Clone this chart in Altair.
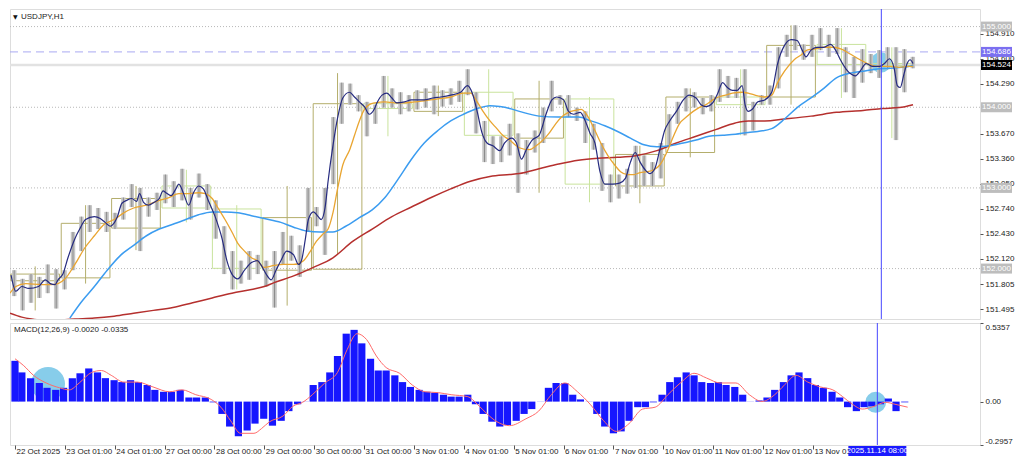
import altair as alt
import pandas as pd

# ---------------- layout ----------------
W = 970
H1 = 310
H2 = 122
FONT = "Liberation Sans"

# ---------------- data ----------------
symbol_title = "USDJPY,H1"
macd_title = "MACD(12,26,9) -0.0020 -0.0335"

day_bar = [0, 24, 48, 72, 96, 120, 144, 168, 192, 216, 240, 264, 288, 312, 336, 360, 384]
day_labels = ["22 Oct 2025", "23 Oct 01:00", "24 Oct 01:00", "27 Oct 00:00", "28 Oct 00:00",
              "29 Oct 00:00", "30 Oct 00:00", "31 Oct 00:00", "3 Nov 01:00", "4 Nov 01:00",
              "5 Nov 01:00", "6 Nov 01:00", "7 Nov 01:00", "10 Nov 01:00", "11 Nov 01:00",
              "12 Nov 01:00", "13 Nov 01:00"]
cursor_bar = 415
cursor_label = "2025.11.14 08:00"

price_ticks = [154.910, 154.600, 154.290, 153.670, 153.360, 153.050, 152.740, 152.430,
               152.120, 151.805, 151.495]
round_levels = [155.0, 154.0, 153.0, 152.0]
ask_price = 154.686
bid_price = 154.524
macd_ticks = [0.5357, 0.0, -0.2957]

# daily candles (H1 chart overlay)
d_open = [151.849, 151.885, 152.502, 153.024, 152.739, 151.980, 151.992, 154.044, 153.949,
          154.186, 153.617, 154.103, 153.024, 153.439, 154.127, 154.127, 154.779, 154.542]
d_close = [151.932, 152.561, 152.869, 152.751, 152.003, 152.632, 154.044, 153.984, 154.186,
           153.652, 154.103, 153.047, 153.415, 154.127, 154.032, 154.767, 154.530, 154.518]
d_high = [152.027, 152.786, 153.024, 153.225, 152.786, 153.024, 154.423, 154.388, 154.269,
          154.471, 154.328, 154.127, 153.522, 154.234, 154.471, 155.016, 154.981, 154.743]
d_low = [151.481, 151.814, 152.229, 152.573, 151.742, 151.541, 152.170, 153.640, 153.890,
         153.557, 152.940, 152.822, 152.810, 153.379, 153.652, 154.032, 154.115, 153.617]

# 4-hour grouped H1 ranges
cand_hi = [151.980, 151.873, 151.932, 151.897, 152.051, 151.992, 151.980, 152.454, 152.644, 152.786,
           152.751, 152.703, 152.691, 152.881, 153.047, 153.000, 152.881, 152.940, 153.166, 153.083,
           153.237, 153.000, 153.178, 153.047, 152.846, 152.525, 152.217, 152.098, 152.217, 152.170,
           152.098, 152.217, 152.454, 152.407, 152.288, 153.000, 152.763, 153.000, 153.878, 154.305,
           154.293, 154.150, 154.067, 154.032, 154.388, 154.234, 154.186, 154.150, 154.210, 154.234,
           154.269, 154.210, 154.234, 154.328, 154.471, 154.186, 153.830, 153.640, 153.640, 153.795,
           153.676, 153.593, 153.712, 153.996, 154.328, 154.150, 154.150, 153.996, 153.949, 153.795,
           153.557, 153.166, 153.166, 153.237, 153.522, 153.403, 153.320, 153.557, 153.913, 154.067,
           154.234, 154.186, 154.115, 154.150, 154.471, 154.388, 154.364, 154.471, 154.067, 154.150,
           154.269, 154.744, 154.898, 155.016, 154.779, 154.898, 154.981, 154.898, 154.981, 154.744,
           154.625, 154.720, 154.660, 154.708, 154.744, 154.744, 154.720, 154.625]
cand_lo = [151.659, 151.482, 151.576, 151.636, 151.695, 151.505, 151.742, 151.980, 152.217, 152.454,
           152.490, 152.454, 152.490, 152.608, 152.763, 152.217, 152.644, 152.727, 152.810, 152.763,
           152.846, 152.608, 152.881, 152.727, 152.371, 151.932, 151.742, 151.814, 151.861, 151.932,
           151.778, 151.517, 152.051, 152.098, 151.897, 152.454, 152.525, 152.170, 153.047, 153.795,
           154.032, 153.949, 153.640, 153.795, 153.996, 153.996, 153.913, 153.949, 153.973, 153.996,
           153.913, 154.008, 154.032, 154.067, 154.150, 153.676, 153.320, 153.296, 153.320, 153.403,
           152.940, 153.166, 153.439, 153.557, 153.949, 154.032, 153.878, 153.830, 153.557, 153.474,
           152.964, 152.822, 152.869, 152.929, 153.000, 153.024, 153.024, 153.118, 153.522, 153.795,
           153.949, 153.996, 153.913, 153.949, 154.067, 154.115, 154.115, 153.652, 153.712, 154.032,
           154.032, 154.234, 154.625, 154.708, 154.589, 154.625, 154.708, 154.625, 154.660, 154.186,
           154.115, 154.305, 154.423, 154.364, 154.471, 153.593, 154.186, 154.483]

# fast MA (navy): (bar, price)
navy_pts = [(0.5, 151.920), (2.8, 151.719), (5.6, 151.778), (8.9, 151.754), (13.6, 151.778),
            (16.8, 151.861), (19.2, 151.814), (21.5, 151.802), (22.9, 151.861), (25.2, 151.932),
            (27.6, 152.134), (30.9, 152.371), (33.2, 152.490), (36.0, 152.608), (40.2, 152.644),
            (43.0, 152.620), (45.3, 152.573), (47.7, 152.525), (51.0, 152.632), (53.3, 152.810),
            (55.6, 152.846), (58.0, 152.869), (60.3, 152.834), (61.7, 152.929), (63.6, 152.822),
            (65.9, 152.786), (68.7, 152.822), (71.1, 152.869), (72.9, 152.964), (74.3, 152.940),
            (76.7, 152.905), (79.0, 152.988), (80.4, 153.047), (82.7, 152.929), (85.1, 152.786),
            (87.4, 152.940), (89.8, 153.024), (92.1, 152.988), (94.4, 152.846), (97.7, 152.644),
            (101.0, 152.371), (103.3, 152.098), (105.7, 151.932), (108.5, 151.873), (111.7, 151.980),
            (115.0, 152.075), (117.8, 152.098), (119.7, 152.039), (122.0, 151.932), (124.4, 151.861),
            (126.7, 151.980), (129.0, 152.098), (131.8, 152.217), (135.1, 152.170), (137.4, 152.051),
            (138.8, 152.098), (140.7, 152.371), (142.1, 152.608), (144.5, 152.703), (146.8, 152.644),
            (148.2, 152.608), (150.1, 152.762), (151.5, 153.083), (153.8, 153.522), (156.1, 153.878),
            (158.5, 154.115), (161.7, 154.186), (164.1, 154.127), (166.4, 154.067), (168.8, 154.008),
            (171.1, 153.913), (173.4, 153.972), (174.8, 154.055), (177.2, 154.150), (179.5, 154.174),
            (181.9, 154.115), (184.2, 154.055), (187.9, 154.067), (191.2, 154.091), (194.5, 154.091),
            (197.3, 154.091), (201.5, 154.115), (205.2, 154.127), (209.9, 154.150), (214.6, 154.186),
            (217.9, 154.269), (220.2, 154.174), (222.5, 153.949), (224.9, 153.676), (227.2, 153.557),
            (230.0, 153.522), (233.3, 153.462), (235.6, 153.557), (238.9, 153.617), (241.2, 153.557),
            (243.6, 153.356), (245.9, 153.474), (248.7, 153.593), (252.0, 153.652), (255.3, 153.913),
            (258.1, 154.091), (260.4, 154.127), (263.7, 154.091), (266.0, 153.949), (268.4, 153.913),
            (271.6, 153.937), (274.0, 153.830), (276.3, 153.676), (278.6, 153.557), (281.0, 153.201),
            (283.3, 153.047), (287.1, 153.047), (290.3, 153.059), (293.1, 153.118), (295.5, 153.320),
            (297.8, 153.439), (300.1, 153.320), (302.5, 153.225), (304.8, 153.178), (307.1, 153.237),
            (309.5, 153.474), (311.8, 153.712), (314.2, 153.830), (317.4, 153.949), (320.7, 154.091),
            (323.5, 154.150), (326.8, 154.115), (329.1, 154.032), (331.5, 154.008), (334.7, 154.055),
            (337.1, 154.174), (339.4, 154.305), (341.7, 154.245), (344.1, 154.210), (346.4, 154.210),
            (348.7, 154.269), (350.1, 154.032), (351.6, 153.949), (353.4, 153.972), (356.2, 154.067),
            (359.5, 154.091), (362.8, 154.186), (365.6, 154.542), (368.9, 154.767), (372.1, 154.838),
            (374.9, 154.827), (377.3, 154.708), (379.1, 154.625), (381.5, 154.708), (384.3, 154.743),
            (387.6, 154.743), (390.8, 154.779), (393.2, 154.708), (395.5, 154.589), (398.3, 154.471),
            (400.6, 154.411), (402.5, 154.388), (404.9, 154.447), (407.7, 154.542), (410.9, 154.506),
            (414.2, 154.506), (416.5, 154.542), (418.9, 154.601), (421.2, 154.471), (422.6, 154.269),
            (424.0, 154.245), (425.9, 154.423), (427.3, 154.542), (428.7, 154.589), (430.1, 154.542)]

orange_pts = [(0.0, 151.695), (2.8, 151.778), (7.5, 151.814), (15.0, 151.802), (19.6, 151.802),
              (22.9, 151.814), (26.2, 151.873), (30.9, 152.051), (35.5, 152.252), (40.2, 152.407),
              (44.9, 152.549), (49.6, 152.608), (54.2, 152.691), (58.9, 152.751), (65.0, 152.786),
              (71.1, 152.846), (75.7, 152.881), (80.4, 152.929), (85.1, 152.929), (89.8, 152.940),
              (93.0, 152.929), (96.3, 152.869), (99.1, 152.751), (102.4, 152.608), (105.7, 152.454),
              (108.5, 152.312), (111.7, 152.217), (115.0, 152.134), (117.8, 152.098), (121.1, 152.015),
              (125.8, 152.039), (130.4, 152.051), (135.1, 152.051), (139.8, 152.098), (143.1, 152.217),
              (145.9, 152.336), (149.1, 152.430), (151.5, 152.490), (153.8, 152.691), (156.1, 153.000),
              (158.5, 153.284), (161.8, 153.474), (164.1, 153.652), (166.4, 153.830), (168.8, 153.973),
              (171.1, 154.032), (173.9, 154.055), (178.6, 154.067), (183.3, 154.055), (187.9, 154.055),
              (192.6, 154.067), (197.3, 154.079), (203.8, 154.103), (209.9, 154.127), (216.0, 154.174),
              (219.3, 154.174), (222.5, 154.067), (225.3, 153.949), (228.6, 153.830), (231.9, 153.735),
              (234.7, 153.652), (238.0, 153.593), (242.6, 153.498), (247.3, 153.474), (250.6, 153.522),
              (253.4, 153.581), (256.7, 153.676), (259.9, 153.795), (262.7, 153.878), (266.0, 153.937),
              (269.3, 153.961), (272.1, 153.973), (275.4, 153.878), (278.6, 153.712), (281.4, 153.557),
              (284.7, 153.403), (288.0, 153.284), (290.8, 153.201), (294.1, 153.166), (297.3, 153.166),
              (300.1, 153.190), (303.4, 153.201), (306.7, 153.225), (309.5, 153.284), (312.8, 153.439),
              (316.0, 153.640), (318.8, 153.795), (322.1, 153.878), (325.4, 153.949), (328.2, 153.996),
              (331.5, 154.032), (334.7, 154.091), (337.5, 154.127), (340.8, 154.150), (344.1, 154.174),
              (348.8, 154.186), (351.6, 154.174), (354.8, 154.150), (359.5, 154.127), (362.8, 154.150),
              (365.6, 154.305), (368.9, 154.447), (373.5, 154.589), (376.8, 154.649), (379.6, 154.708),
              (382.9, 154.720), (387.6, 154.744), (392.2, 154.744), (396.0, 154.720), (400.2, 154.660),
              (404.9, 154.589), (409.5, 154.530), (414.2, 154.506), (418.9, 154.506), (423.5, 154.495),
              (428.2, 154.506), (430.1, 154.506)]

blue_pts = [(28.5, 151.386), (33.7, 151.576), (40.2, 151.778), (46.3, 151.980), (52.4, 152.158),
            (58.9, 152.288), (65.0, 152.407), (71.1, 152.490), (77.6, 152.549), (83.7, 152.608),
            (89.8, 152.668), (96.3, 152.703), (102.4, 152.703), (108.5, 152.691), (115.0, 152.656),
            (121.1, 152.620), (129.0, 152.573), (135.1, 152.513), (141.2, 152.466), (147.7, 152.454),
            (153.8, 152.454), (159.9, 152.525), (166.4, 152.632), (172.5, 152.727), (178.6, 152.881),
            (185.1, 153.118), (191.2, 153.356), (197.3, 153.557), (203.8, 153.712), (209.9, 153.830),
            (216.0, 153.913), (222.5, 153.984), (228.6, 154.020), (233.3, 154.008), (238.0, 153.984),
            (242.6, 153.949), (252.0, 153.890), (261.3, 153.878), (270.7, 153.878), (276.8, 153.830),
            (283.3, 153.771), (289.4, 153.700), (295.5, 153.617), (302.0, 153.534), (308.1, 153.510),
            (314.2, 153.522), (320.7, 153.557), (326.8, 153.593), (332.9, 153.640), (339.4, 153.652),
            (345.5, 153.664), (351.6, 153.688), (356.2, 153.700), (362.8, 153.735), (368.9, 153.854),
            (374.9, 153.996), (381.5, 154.115), (387.6, 154.234), (393.6, 154.364), (400.2, 154.423),
            (406.3, 154.447), (412.3, 154.471), (418.9, 154.483), (425.0, 154.495), (430.1, 154.518)]

red_pts = [(0.0, 151.446), (5.6, 151.398), (10.3, 151.375), (18.2, 151.355), (30.9, 151.375),
           (40.2, 151.386), (49.6, 151.410), (58.9, 151.446), (68.3, 151.482), (77.6, 151.517),
           (87.0, 151.576), (96.3, 151.636), (105.7, 151.695), (115.0, 151.742), (121.1, 151.778),
           (125.8, 151.826), (135.1, 151.909), (144.5, 152.015), (153.8, 152.134), (163.2, 152.336),
           (172.5, 152.490), (181.9, 152.644), (191.2, 152.763), (200.6, 152.881), (209.9, 152.988),
           (219.3, 153.083), (228.6, 153.142), (238.0, 153.166), (242.6, 153.178), (252.0, 153.237),
           (261.3, 153.296), (270.7, 153.344), (280.0, 153.368), (289.4, 153.379), (298.7, 153.403),
           (308.1, 153.462), (317.4, 153.557), (326.8, 153.640), (336.1, 153.723), (345.5, 153.806),
           (351.6, 153.830), (359.5, 153.830), (368.9, 153.854), (381.5, 153.890), (393.6, 153.937),
           (406.3, 153.961), (415.6, 153.984), (423.5, 153.996), (430.1, 154.032)]

macd_pts = [(0.0, 0.278), (3.3, 0.199), (7.5, 0.160), (11.7, 0.127), (15.4, 0.094), (19.6, 0.080),
            (23.4, 0.094), (27.6, 0.160), (31.3, 0.193), (35.5, 0.226), (39.7, 0.199), (43.5, 0.160),
            (47.7, 0.146), (51.4, 0.133), (55.6, 0.146), (59.4, 0.133), (63.6, 0.113), (67.3, 0.080),
            (71.5, 0.067), (75.3, 0.067), (79.5, 0.080), (83.7, 0.028), (87.4, 0.028), (91.6, 0.028),
            (95.4, -0.005), (99.6, -0.084), (103.3, -0.170), (107.5, -0.236), (111.7, -0.197),
            (115.5, -0.150), (119.7, -0.117), (123.9, -0.164), (128.1, -0.131), (131.8, -0.065),
            (136.0, -0.018), (139.8, 0.001), (143.5, 0.113), (147.7, 0.133), (151.5, 0.199),
            (155.2, 0.311), (159.4, 0.463), (163.2, 0.489), (166.9, 0.397), (171.1, 0.292),
            (174.8, 0.212), (178.6, 0.212), (182.8, 0.179), (186.5, 0.133), (190.3, 0.100),
            (194.5, 0.080), (198.2, 0.067), (202.0, 0.061), (206.2, 0.047), (209.9, 0.034),
            (213.7, 0.034), (217.9, 0.047), (221.6, -0.018), (225.3, -0.084), (229.5, -0.137),
            (233.3, -0.170), (237.0, -0.160), (241.2, -0.131), (245.0, -0.084), (248.7, -0.051),
            (252.9, 0.001), (256.7, 0.094), (260.4, 0.127), (264.6, 0.127), (268.4, 0.047),
            (272.1, 0.015), (276.3, 0.001), (280.0, -0.084), (283.8, -0.170), (288.0, -0.216),
            (291.7, -0.203), (295.5, -0.131), (299.7, -0.038), (303.4, -0.038), (307.2, -0.005),
            (311.4, 0.047), (315.1, 0.133), (318.8, 0.166), (323.0, 0.199), (326.8, 0.179),
            (330.5, 0.133), (334.7, 0.127), (338.5, 0.133), (342.2, 0.113), (346.4, 0.100),
            (350.2, 0.047), (353.9, 0.001), (358.1, 0.008), (361.9, 0.028), (365.6, 0.080),
            (369.8, 0.133), (373.5, 0.179), (377.3, 0.199), (381.5, 0.160), (385.2, 0.113),
            (389.0, 0.094), (393.2, 0.067), (396.9, 0.028), (400.7, -0.038), (404.9, -0.065),
            (408.6, -0.038), (412.3, -0.032), (416.5, -0.018), (420.3, 0.021), (424.0, -0.065),
            (428.2, -0.005)]

signal_pts = [(0.0, 0.292), (4.2, 0.245), (8.9, 0.179), (15.0, 0.127), (21.5, 0.094), (26.2, 0.080),
              (30.9, 0.127), (36.9, 0.199), (41.6, 0.212), (46.3, 0.179), (52.4, 0.133), (58.9, 0.133),
              (66.4, 0.100), (74.3, 0.067), (80.4, 0.080), (87.0, 0.047), (94.4, 0.015), (99.1, -0.038),
              (103.8, -0.131), (108.5, -0.216), (115.0, -0.216), (118.7, -0.183), (122.5, -0.137),
              (129.0, -0.098), (133.7, -0.032), (138.4, -0.005), (143.1, 0.047), (149.1, 0.127),
              (155.2, 0.199), (159.9, 0.356), (164.6, 0.463), (169.2, 0.423), (173.9, 0.311),
              (178.6, 0.232), (185.1, 0.193), (191.2, 0.113), (197.3, 0.067), (203.8, 0.061),
              (209.9, 0.047), (217.9, 0.034), (222.5, -0.018), (227.2, -0.084), (231.9, -0.137),
              (238.0, -0.164), (245.9, -0.117), (252.0, -0.065), (258.1, 0.047), (264.6, 0.127),
              (270.7, 0.067), (276.8, -0.018), (283.3, -0.131), (289.4, -0.203), (295.5, -0.150),
              (302.0, -0.051), (308.1, -0.038), (314.2, 0.047), (320.7, 0.133), (326.8, 0.193),
              (332.9, 0.160), (339.4, 0.127), (346.9, 0.127), (353.4, 0.047), (359.5, 0.001),
              (365.6, 0.047), (370.3, 0.113), (375.9, 0.179), (381.5, 0.133), (387.6, 0.100),
              (393.6, 0.080), (398.3, 0.034), (403.0, -0.018), (407.7, -0.051), (412.3, -0.038),
              (418.9, -0.005), (423.5, -0.018), (429.6, -0.038)]

# highlight ellipses (bar, value, area)
main_marks = [(414.7, 154.554)]
macd_marks = [(15.9, 0.120, 1150), (414.2, -0.005, 440)]

# ---------------- tables ----------------
def pts_df(pts, vname):
    return pd.DataFrame({"i": [p[0] for p in pts], vname: [p[1] for p in pts]})

days_df = pd.DataFrame({
    "k": list(range(len(d_open))),
    "open": d_open, "close": d_close, "high": d_high, "low": d_low,
})
days_df["x0"] = days_df["k"] * 24 + 0.4
days_df["x1"] = (days_df["k"] * 24 + 23.6).clip(upper=430)
days_df["xm"] = days_df["k"] * 24 + 12
days_df["dir"] = ["up" if c >= o else "down" for o, c in zip(d_open, d_close)]

cand_df = pd.DataFrame({"i": [4 * c + 2 for c in range(len(cand_hi))], "hi": cand_hi, "lo": cand_lo})

# ---------------- scales / axes ----------------
xs = alt.Scale(domain=[0, 462], nice=False, zero=False)
ys = alt.Scale(domain=[151.375, 155.218], nice=False, zero=False)
ms = alt.Scale(domain=[-0.2957, 0.5357], nice=False, zero=False)

main_axis = alt.Axis(orient="right", values=price_ticks, format=".3f", tickSize=3, tickColor="#555",
                     labelPadding=2, grid=False, domain=False, title=None, labelFontSize=8,
                     labelFont=FONT, labelColor="#222")
macd_axis = alt.Axis(orient="right", values=macd_ticks,
                     labelExpr="datum.value == 0 ? '0.00' : (datum.value > 0 ? '0.5357' : '-0.2957')",
                     tickSize=3, tickColor="#555", labelPadding=2, labelFlush=True, grid=False,
                     domain=False, title=None, labelFontSize=8, labelFont=FONT, labelColor="#222")
label_expr = "[" + ",".join("'" + s + "'" for s in day_labels) + "][round(datum.value / 24)]"
time_axis = alt.Axis(orient="bottom", values=day_bar, labelExpr=label_expr, tickSize=4, tickColor="#555",
                     labelAlign="left", labelBaseline="top", labelPadding=-2, labelOffset=1, domain=False,
                     grid=False, labelOverlap=False, labelFlush=False, labelBound=False, title=None,
                     labelFontSize=8, labelFont=FONT, labelColor="#222")


def xm(f):
    return alt.X(f, type="quantitative", scale=xs, axis=None, title=None)


def xb(f):
    return alt.X(f, type="quantitative", scale=xs, axis=time_axis, title=None)


def ym(f):
    return alt.Y(f, type="quantitative", scale=ys, axis=main_axis, title=None)


def yd(f):
    return alt.Y(f, type="quantitative", scale=ms, axis=macd_axis, title=None)


# ---------------- main panel ----------------
lv = alt.Chart(pd.DataFrame({"p": round_levels})).mark_rule(
    color="#b8b8b8", strokeDash=[1, 2], strokeWidth=1).encode(y=ym("p"))
bid = alt.Chart(pd.DataFrame({"p": [bid_price]})).mark_rule(
    color="#e2e2e2", strokeWidth=2.5).encode(y=ym("p"))
ask = alt.Chart(pd.DataFrame({"p": [ask_price]})).mark_rule(
    color="#aaaaf2", strokeDash=[8, 5], strokeWidth=1).encode(y=ym("p"))

dir_scale = alt.Scale(domain=["up", "down"], range=["#b4ae6c", "#c9e39d"])
boxes = alt.Chart(days_df).mark_rect(fillOpacity=0, strokeWidth=1).encode(
    x=xm("x0"), x2=alt.X2("x1"), y=ym("open"), y2=alt.Y2("close"),
    stroke=alt.Stroke("dir:N", scale=dir_scale, legend=None))
wicks = alt.Chart(days_df).mark_rule(strokeWidth=1).encode(
    x=xm("xm"), y=ym("high"), y2=alt.Y2("low"),
    stroke=alt.Stroke("dir:N", scale=dir_scale, legend=None))

ell_main = alt.Chart(pd.DataFrame({"i": [m[0] for m in main_marks], "p": [m[1] for m in main_marks]})).mark_point(
    filled=True, shape="circle", size=420, color="#87cdea", opacity=1, strokeWidth=0).encode(
    x=xm("i"), y=ym("p"))

candles = alt.Chart(cand_df).mark_rule(color="#c6c6c6", strokeWidth=4.5).encode(
    x=xm("i"), y=ym("lo"), y2=alt.Y2("hi"))
candles_core = alt.Chart(cand_df).mark_rule(color="#8c8c8c", strokeWidth=1).encode(
    x=xm("i"), y=ym("lo"), y2=alt.Y2("hi"))


def ma_line(pts, color, width):
    return alt.Chart(pts_df(pts, "p")).mark_line(
        color=color, strokeWidth=width, interpolate="monotone", clip=True).encode(x=xm("i"), y=ym("p"))


red = ma_line(red_pts, "#b5302e", 1.5)
blue = ma_line(blue_pts, "#3b9cf0", 1.5)
orange = ma_line(orange_pts, "#e9a531", 1.3)
navy = ma_line(navy_pts, "#262b80", 1.2)

vline_main = alt.Chart(pd.DataFrame({"i": [cursor_bar]})).mark_rule(
    color="#4646ff", strokeWidth=1).encode(x=xm("i"))

tri = alt.Chart(pd.DataFrame({"t": ["\u25bc"]})).mark_text(
    align="left", baseline="middle", fontSize=6, font="DejaVu Sans", color="#111").encode(
    x=alt.value(3), y=alt.value(8), text="t:N")
title = alt.Chart(pd.DataFrame({"t": [symbol_title]})).mark_text(
    align="left", baseline="middle", fontSize=8, font=FONT, color="#222").encode(
    x=alt.value(11), y=alt.value(8), text="t:N")

lab_df = pd.DataFrame({
    "p": round_levels + [ask_price, bid_price],
    "t": ["155.000", "154.000", "153.000", "152.000", "154.686", "154.524"],
    "bg": ["grey", "grey", "grey", "grey", "ask", "bid"],
})
lab_scale = alt.Scale(domain=["grey", "ask", "bid"], range=["#bdbdbd", "#7b6ff0", "#000000"])
lab_box = alt.Chart(lab_df).mark_rect(yOffset=-5, y2Offset=5).encode(
    x=alt.value(W + 1), x2=alt.value(W + 32), y=ym("p"), y2=alt.Y2("p"),
    fill=alt.Fill("bg:N", scale=lab_scale, legend=None))
lab_txt = alt.Chart(lab_df).mark_text(
    align="center", baseline="middle", fontSize=8, font=FONT, color="white").encode(
    x=alt.value(W + 16.5), y=ym("p"), text="t:N")

main = alt.layer(lv, bid, ask, ell_main, boxes, wicks, candles, candles_core,
                 red, blue, orange, navy, vline_main, tri, title, lab_box, lab_txt).properties(
    width=W, height=H1)

# ---------------- MACD panel ----------------
ell_df = pd.DataFrame({"i": [m[0] for m in macd_marks], "v": [m[1] for m in macd_marks],
                       "s": [m[2] for m in macd_marks]})
ell_macd = alt.Chart(ell_df).mark_point(filled=True, shape="circle", color="#87cdea",
                                         opacity=1, strokeWidth=0).encode(
    x=xb("i"), y=yd("v"), size=alt.Size("s:Q", scale=None, legend=None))

hist = alt.Chart(pts_df(macd_pts, "v")).mark_bar(size=7.2, color="#1616ff").encode(
    x=xb("i"), y=yd("v"), y2=alt.datum(0))
sig = alt.Chart(pts_df(signal_pts, "v")).mark_line(
    color="#ff6a6a", strokeWidth=1, interpolate="monotone").encode(x=xb("i"), y=yd("v"))

vline_macd = alt.Chart(pd.DataFrame({"i": [cursor_bar]})).mark_rule(
    color="#4646ff", strokeWidth=1).encode(x=xb("i"))

macd_txt = alt.Chart(pd.DataFrame({"t": [macd_title]})).mark_text(
    align="left", baseline="middle", fontSize=8, font=FONT, color="#222").encode(
    x=alt.value(4), y=alt.value(7), text="t:N")

cur_df = pd.DataFrame({"i": [cursor_bar], "t": [cursor_label]})
cur_box = alt.Chart(cur_df).mark_rect(xOffset=-29, x2Offset=29, color="#1a1aff").encode(
    x=xb("i"), x2=alt.X2("i"), y=alt.value(H2 + 1), y2=alt.value(H2 + 11))
cur_txt = alt.Chart(cur_df).mark_text(
    align="center", baseline="middle", fontSize=8, font=FONT, color="white").encode(
    x=xb("i"), y=alt.value(H2 + 6), text="t:N")

macd = alt.layer(ell_macd, hist, sig, vline_macd, macd_txt, cur_box, cur_txt).properties(
    width=W, height=H2)

chart = alt.vconcat(main, macd, spacing=2).properties(
    padding={"left": 0, "right": 0, "top": 0, "bottom": 0}
).configure_view(stroke="#707070", strokeWidth=1).configure(background="white")

chart.save("out.html", embed_options={"renderer": "svg", "actions": False})
